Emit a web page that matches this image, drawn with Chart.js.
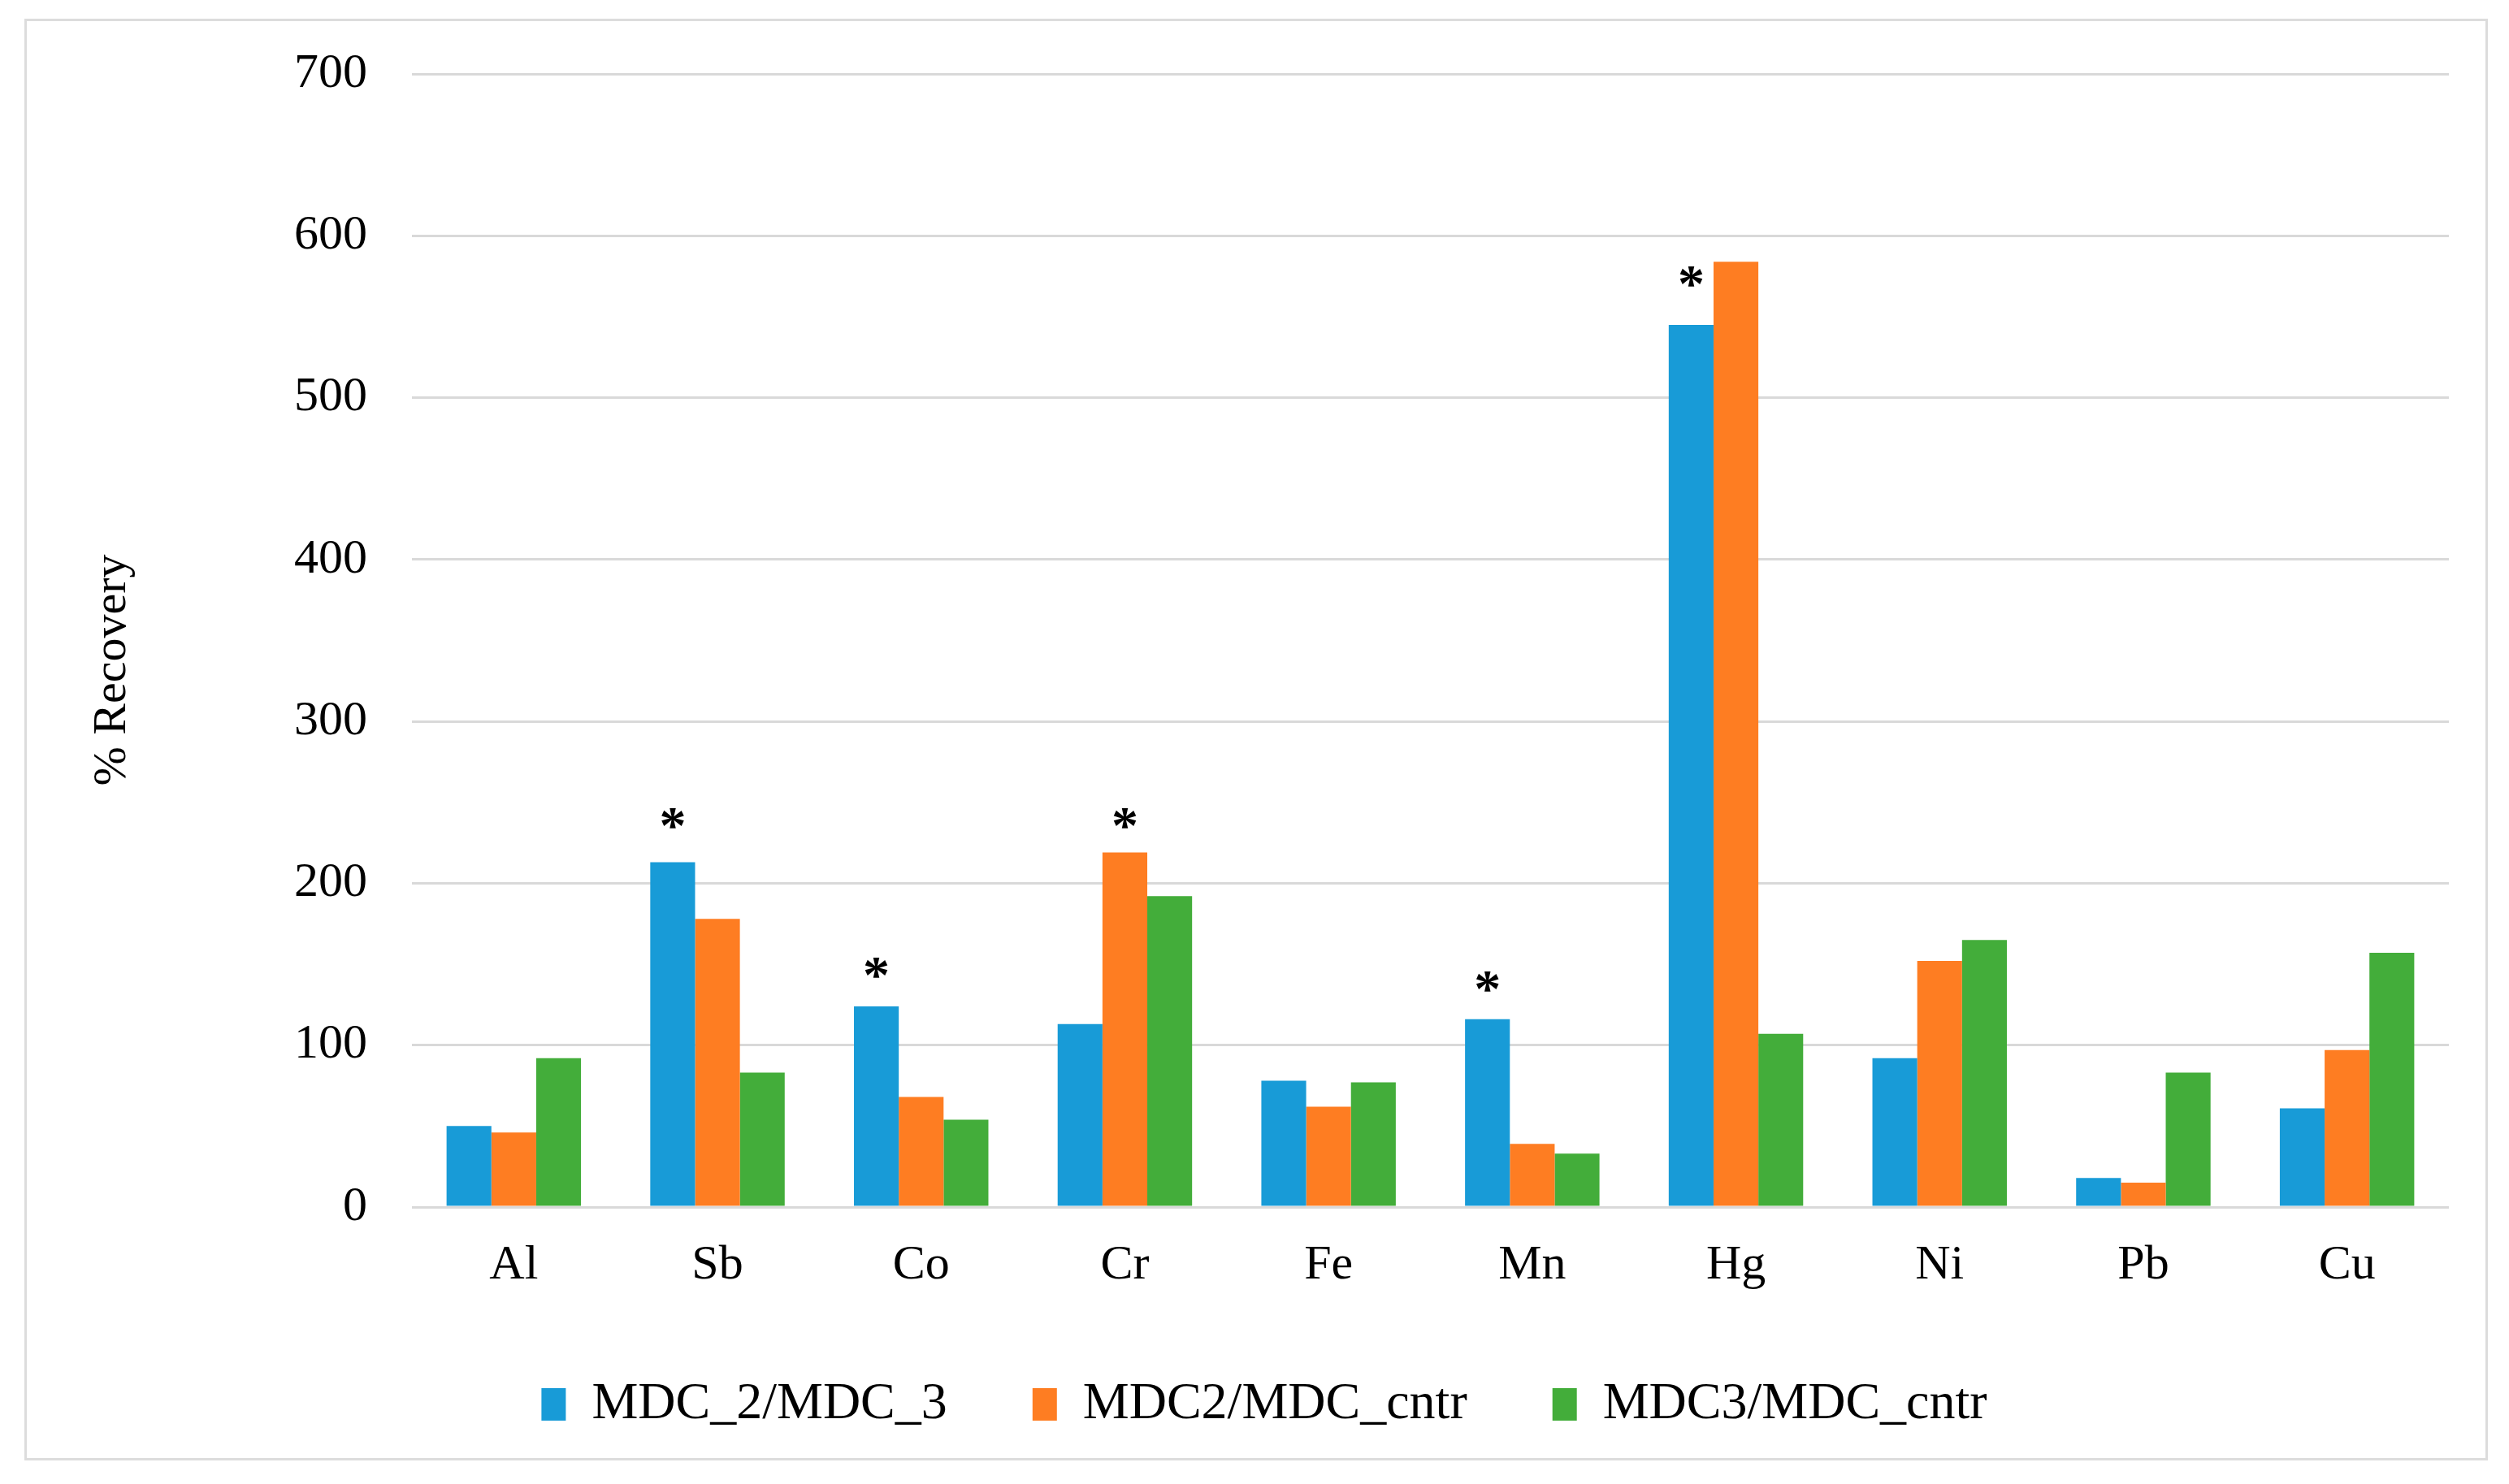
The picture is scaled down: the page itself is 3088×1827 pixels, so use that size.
<!DOCTYPE html>
<html>
<head>
<meta charset="utf-8">
<script src="https://cdn.jsdelivr.net/npm/chart.js@4"></script>
<style>
  html, body { margin: 0; padding: 0; background: #fff; }
  #wrap { position: relative; width: 3088px; height: 1827px; }
  #frame { position: absolute; left: 30px; top: 23px; width: 3026px; height: 1769px; border: 3px solid #dcdcdc; }
  #mainChart { position: absolute; left: 0; top: 0; }
</style>
</head>
<body>
<div id="wrap">
  <div id="frame"></div>
  <canvas id="mainChart" width="3088" height="1827"></canvas>
</div>
<script>
const ELEMENTS = ["Al", "Sb", "Co", "Cr", "Fe", "Mn", "Hg", "Ni", "Pb", "Cu"];
const SERIES = ["MDC_2/MDC_3", "MDC2/MDC_cntr", "MDC3/MDC_cntr"];
const mdc2_mdc3 = [50, 213, 124, 113, 78, 116, 545, 92, 18, 61];
const mdc2_cntr = [46, 178, 68, 219, 62, 39, 584, 152, 15, 97];
const mdc3_cntr = [92, 83, 54, 192, 77, 33, 107, 165, 83, 157];
const Y_TICKS = [0, 100, 200, 300, 400, 500, 600, 700];

// significance marks: element, series index, height of the star (in % units)
const starElements = ["Sb", "Co", "Cr", "Mn", "Hg"];
const starSeries = [0, 0, 1, 0, 0];
const starLevels = [240, 148, 240, 139, 575];

const COLORS = ["#189bd7", "#fe7d22", "#43ad3a"];
const SERIF = "'Liberation Serif', 'Times New Roman', serif";

// asterisks + rotated axis title
const extras = {
  id: "extras",
  afterDatasetsDraw(chart) {
    const ctx = chart.ctx;
    const y = chart.scales.y;
    ctx.save();
    ctx.fillStyle = "#000";
    ctx.font = "bold 66px " + SERIF;
    ctx.textAlign = "center";
    const m = ctx.measureText("*");
    const shift = (m.actualBoundingBoxAscent - m.actualBoundingBoxDescent) / 2;
    starElements.forEach((el, i) => {
      const idx = ELEMENTS.indexOf(el);
      const bar = chart.getDatasetMeta(starSeries[i]).data[idx];
      ctx.fillText("*", bar.x, y.getPixelForValue(starLevels[i]) + shift);
    });

    ctx.font = "58px " + SERIF;
    ctx.textBaseline = "middle";
    ctx.translate(139, 825);
    ctx.rotate(-Math.PI / 2);
    ctx.fillText("% Recovery", 0, 0);
    ctx.restore();
  }
};

const ctx = document.getElementById("mainChart").getContext("2d");
new Chart(ctx, {
  type: "bar",
  data: {
    labels: ELEMENTS,
    datasets: [mdc2_mdc3, mdc2_cntr, mdc3_cntr].map((d, i) => ({
      label: SERIES[i],
      data: d,
      backgroundColor: COLORS[i],
      borderWidth: 0,
      barPercentage: 1,
      categoryPercentage: 0.66
    }))
  },
  options: {
    responsive: false,
    animation: false,
    devicePixelRatio: 1,
    layout: { padding: { left: 98, right: 74, top: 85, bottom: 56 } },
    plugins: {
      legend: {
        position: "bottom",
        labels: {
          boxWidth: 30,
          boxHeight: 40,
          padding: 105,
          color: "#000",
          font: { family: SERIF, size: 64 }
        }
      },
      tooltip: { enabled: false }
    },
    scales: {
      x: {
        grid: { display: false },
        border: { display: false },
        ticks: { color: "#000", padding: 28, font: { family: SERIF, size: 60 } },
        afterFit: s => { s.height = 106; }
      },
      y: {
        min: 0,
        max: 700,
        afterBuildTicks: s => { s.ticks = Y_TICKS.map(v => ({ value: v })); },
        grid: { color: "#d9d9d9", lineWidth: 3, drawTicks: false },
        border: { display: false },
        ticks: { color: "#000", padding: 55, font: { family: SERIF, size: 60 } },
        afterFit: s => { s.width = 409; }
      }
    }
  },
  plugins: [extras]
});
</script>
</body>
</html>
